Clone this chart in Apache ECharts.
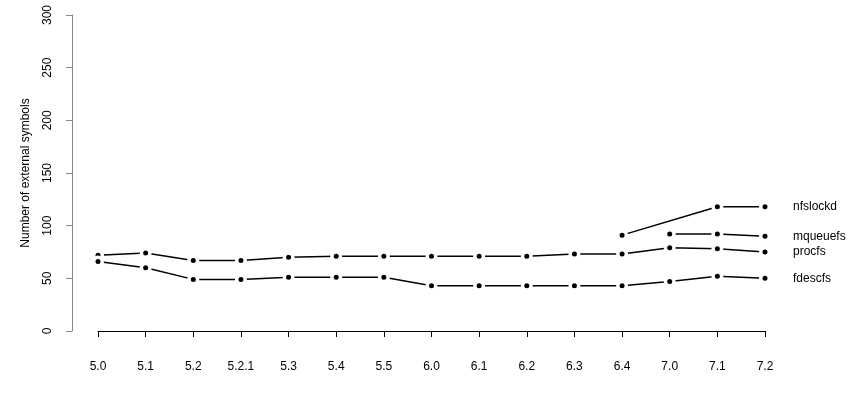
<!DOCTYPE html>
<html><head><meta charset="utf-8">
<script src="https://cdn.jsdelivr.net/npm/echarts@6/dist/echarts.min.js"></script>
<style>html,body{margin:0;padding:0;background:#fff}#c{width:850px;height:400px}</style>
</head><body><div id="c"></div>
<script>
var categories = ["5.0","5.1","5.2","5.2.1","5.3","5.4","5.5","6.0","6.1","6.2","6.3","6.4","7.0","7.1","7.2"];
var procfs   = [72,74,67,67,70,71,71,71,71,71,73,73,79,78,75];
var fdescfs  = [66,60,49,49,51,51,51,43,43,43,43,43,47,52,50];
var mqueuefs = [null,null,null,null,null,null,null,null,null,null,null,null,92,92,90];
var nfslockd = [null,null,null,null,null,null,null,null,null,null,null,91,null,118,118];
var yTicks = [0,50,100,150,200,250,300];

var font = "'Liberation Sans', Arial, sans-serif";
function mk(name, data){
  return {
    name:name, type:'line', data:data, connectNulls:true,
    symbol:'circle', symbolSize:8.5,
    itemStyle:{color:'#000', borderColor:'#fff', borderWidth:3.5},
    lineStyle:{color:'#000', width:1.5},
    endLabel:{show:true, formatter:name, distance:28, color:'#000', fontSize:12, fontFamily:font},
    emphasis:{disabled:true}, animation:false, z:2
  };
}
var chart = echarts.init(document.getElementById('c'));
chart.setOption({
  animation:false,
  grid:{left:98, right:85, top:15, bottom:69},
  xAxis:{type:'category', data:categories, boundaryGap:false, offset:11,
    axisLine:{lineStyle:{color:'#000', width:1}},
    axisTick:{length:6, lineStyle:{color:'#000'}},
    axisLabel:{color:'#000', fontSize:12, fontFamily:font, margin:19, interval:0},
    splitLine:{show:false}},
  yAxis:{type:'value', min:yTicks[0], max:yTicks[yTicks.length-1], interval:50, offset:26,
    name:'Number of external symbols', nameLocation:'middle', nameGap:40, nameRotate:90,
    nameTextStyle:{color:'#000', fontSize:12, fontFamily:font},
    axisLine:{show:true, lineStyle:{color:'#888', width:1}},
    axisTick:{show:true, length:6, lineStyle:{color:'#888'}},
    axisLabel:{color:'#000', fontSize:12, fontFamily:font, rotate:90, margin:18},
    splitLine:{show:false}},
  series:[mk('nfslockd',nfslockd), mk('mqueuefs',mqueuefs), mk('procfs',procfs), mk('fdescfs',fdescfs)]
});
</script></body></html>
